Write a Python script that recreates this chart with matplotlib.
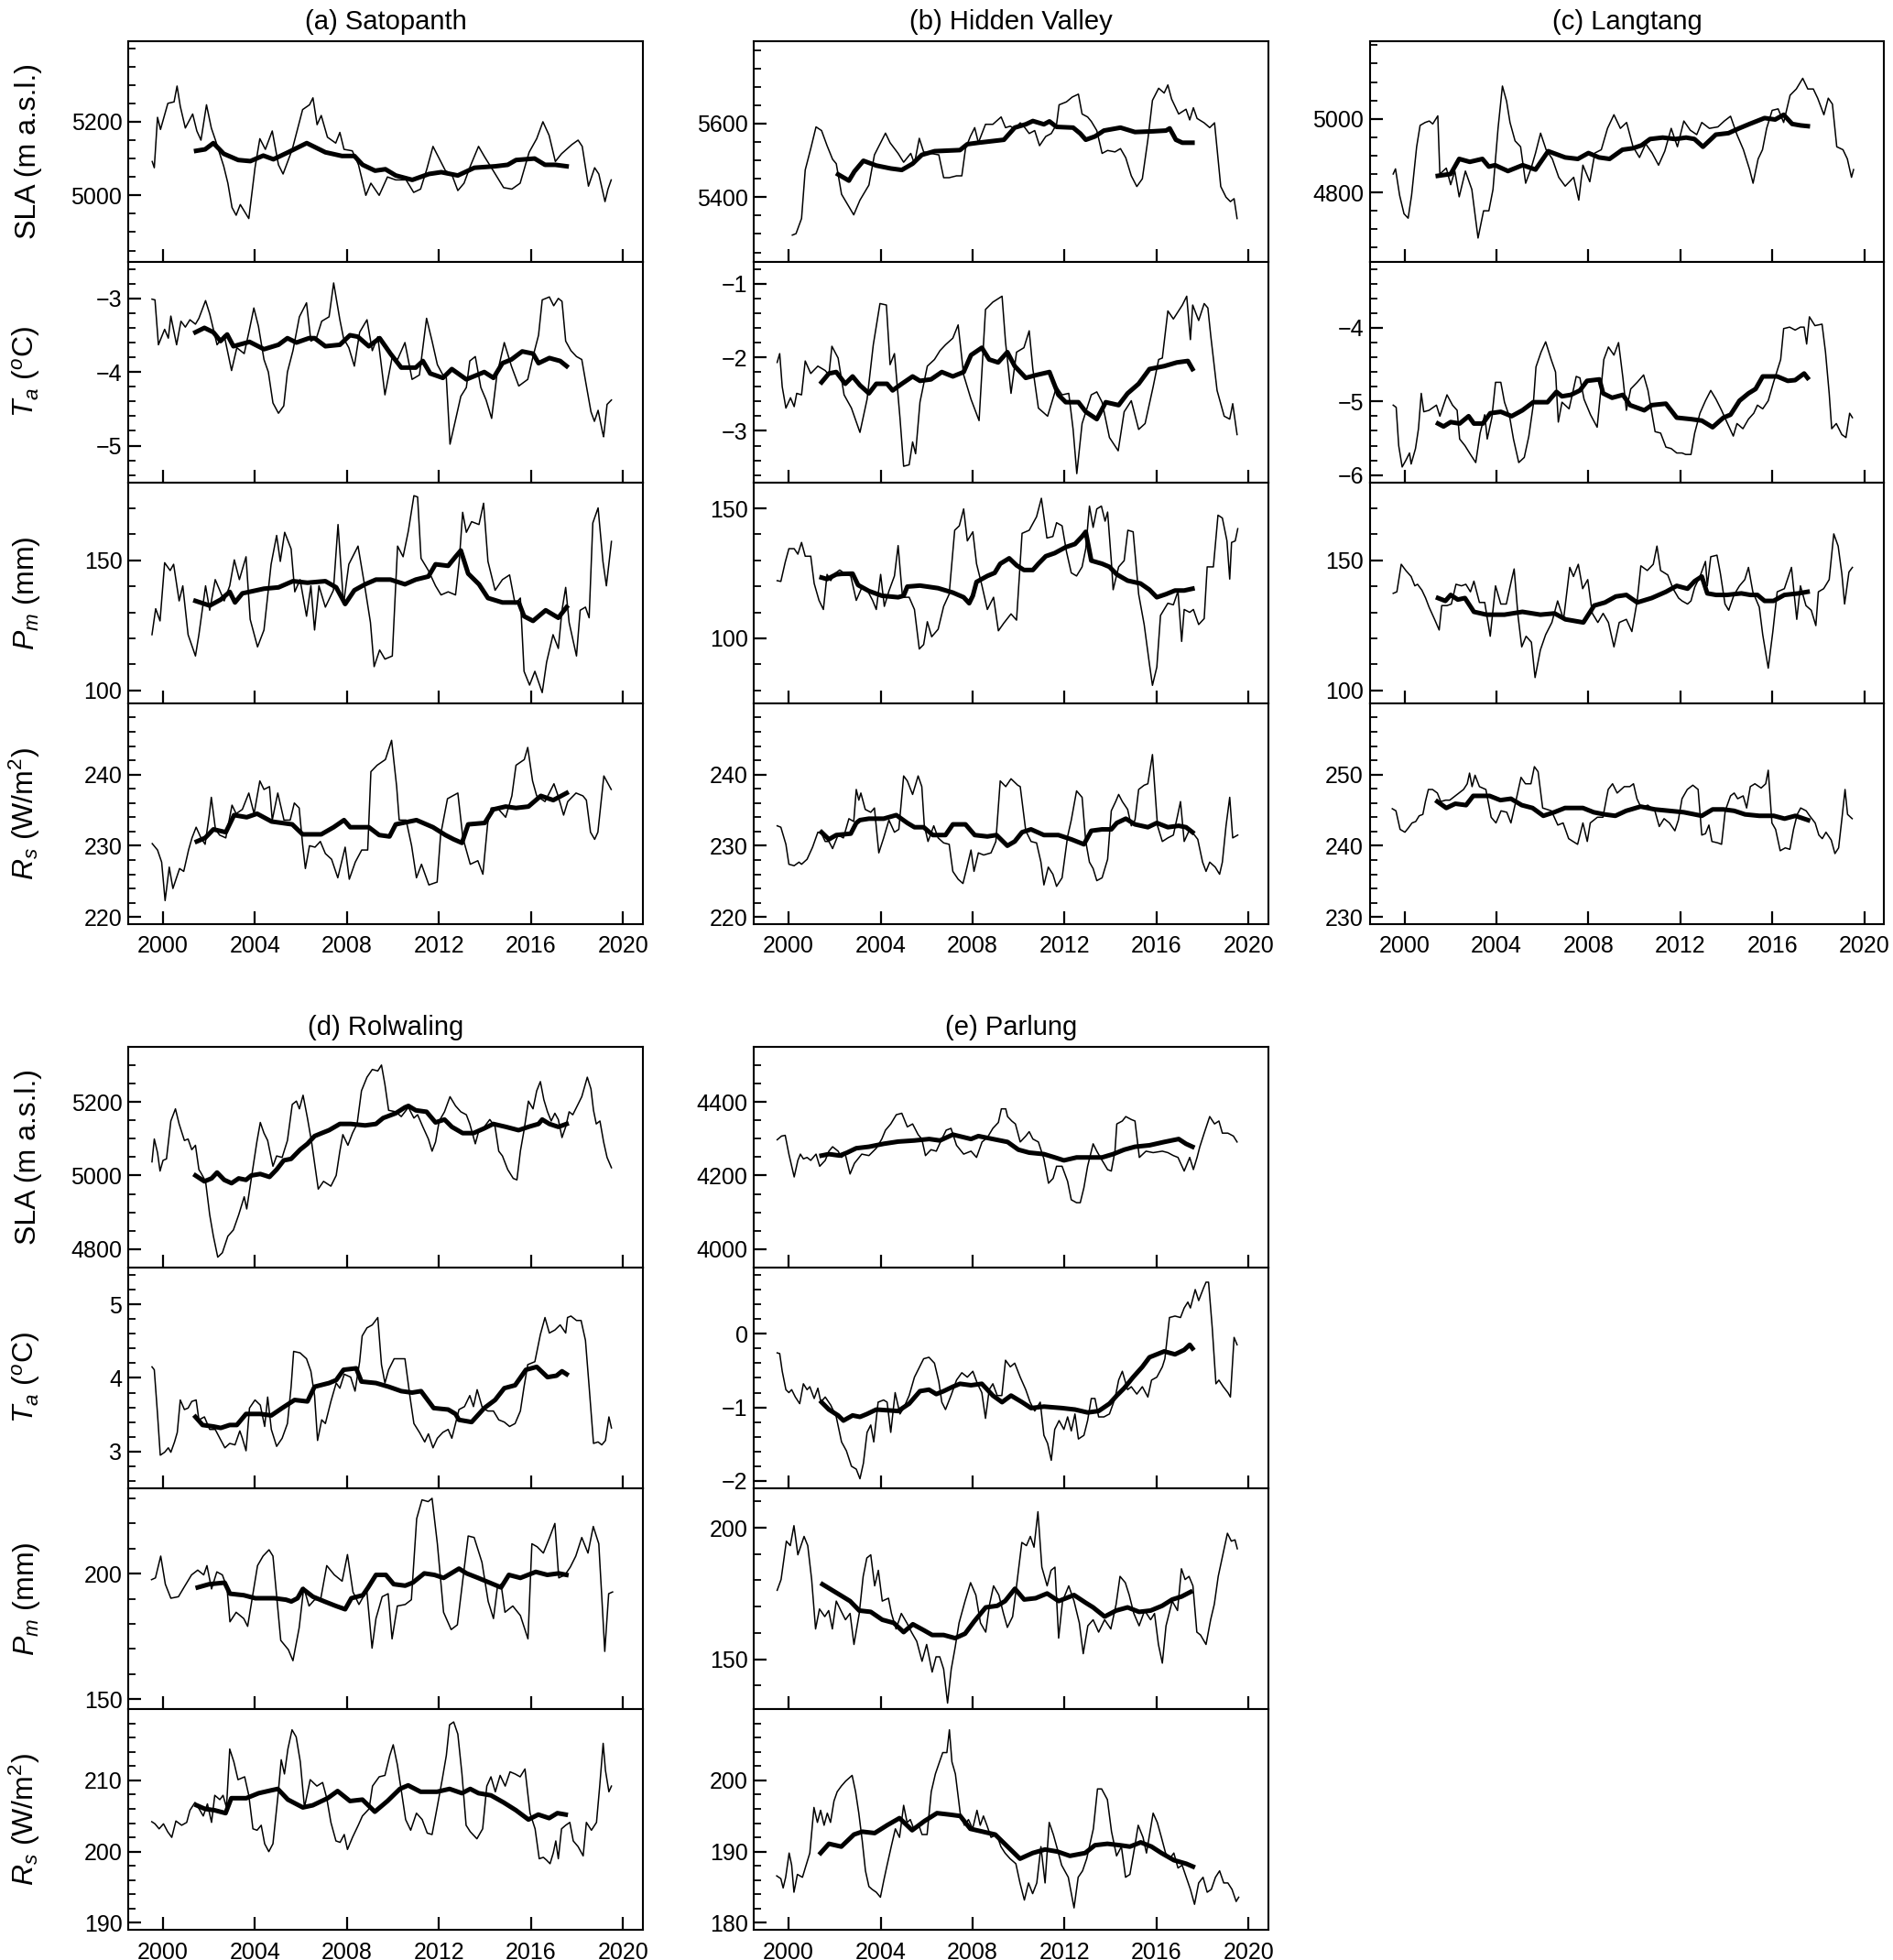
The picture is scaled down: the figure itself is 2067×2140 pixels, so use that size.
import matplotlib
matplotlib.use("Agg")
import matplotlib.pyplot as plt
from matplotlib.ticker import MultipleLocator, FixedLocator

plt.rcParams['font.family'] = ['Liberation Sans', 'DejaVu Sans']
plt.rcParams['mathtext.fontset'] = 'custom'
plt.rcParams['mathtext.rm'] = 'Liberation Sans'
plt.rcParams['mathtext.it'] = 'Liberation Sans:italic'
plt.rcParams['mathtext.bf'] = 'Liberation Sans:bold'

# (year, value) pairs
# thin line = running series, thick line = long-window mean

# ---------------- (a) Satopanth ----------------
sat_sla = [(1999.53,5092),(1999.62,5075),(1999.76,5212),(1999.89,5179),(2000.21,5250),(2000.48,5254),(2000.61,5297),(2000.75,5242),(2000.97,5183),(2001.29,5221),(2001.47,5175),(2001.65,5150),(2001.89,5246),(2002.10,5183),(2002.28,5150),(2002.64,5079),(2002.82,5033),(2003.0,4967),(2003.18,4946),(2003.36,4975),(2003.73,4937),(2004.0,5075),(2004.21,5154),(2004.45,5125),(2004.75,5175),(2005.02,5083),(2005.22,5058),(2005.62,5125),(2006.07,5233),(2006.37,5246),(2006.52,5265),(2006.70,5192),(2006.88,5217),(2007.15,5158),(2007.51,5142),(2007.69,5171),(2007.87,5125),(2008.23,5121),(2008.50,5083),(2008.82,5000),(2009.04,5033),(2009.40,5000),(2009.76,5050),(2010.12,5042),(2010.57,5042),(2010.90,5008),(2011.20,5017),(2011.47,5071),(2011.74,5133),(2012.01,5100),(2012.28,5067),(2012.55,5058),(2012.82,5013),(2013.09,5033),(2013.36,5079),(2013.72,5133),(2013.99,5104),(2014.36,5067),(2014.81,5021),(2015.17,5017),(2015.53,5033),(2015.92,5117),(2016.25,5154),(2016.52,5200),(2016.79,5163),(2017.06,5092),(2017.33,5113),(2017.78,5138),(2018.05,5150),(2018.23,5133),(2018.50,5025),(2018.77,5075),(2018.95,5058),(2019.22,4983),(2019.35,5017),(2019.49,5042)]
sat_sla_avg = [(2001.44,5121),(2001.83,5125),(2002.19,5142),(2002.64,5113),(2003.27,5096),(2003.8,5093),(2004.36,5108),(2004.8,5098),(2005.44,5117),(2006.25,5142),(2007.06,5117),(2007.78,5107),(2008.32,5107),(2008.68,5083),(2009.22,5067),(2009.67,5071),(2010.12,5054),(2010.84,5042),(2011.56,5058),(2012.1,5063),(2012.82,5054),(2013.54,5075),(2014.45,5079),(2014.99,5083),(2015.35,5096),(2016.16,5100),(2016.61,5083),(2017.06,5083),(2017.55,5079)]
sat_ta = [(1999.52,-3.01),(1999.65,-3.02),(1999.8,-3.63),(2000.07,-3.42),(2000.23,-3.54),(2000.34,-3.24),(2000.59,-3.63),(2000.78,-3.31),(2000.97,-3.39),(2001.17,-3.29),(2001.41,-3.35),(2001.56,-3.27),(2001.85,-3.03),(2002.03,-3.21),(2002.35,-3.63),(2002.66,-3.5),(2002.98,-3.98),(2003.21,-3.67),(2003.53,-3.75),(2003.76,-3.42),(2003.95,-3.13),(2004.15,-3.38),(2004.39,-3.83),(2004.58,-4.0),(2004.78,-4.42),(2005.02,-4.56),(2005.25,-4.46),(2005.41,-4.0),(2005.65,-3.71),(2005.93,-3.25),(2006.24,-3.06),(2006.43,-3.58),(2006.67,-3.54),(2006.9,-3.31),(2007.22,-3.25),(2007.42,-2.79),(2007.69,-3.29),(2007.85,-3.54),(2008.08,-3.67),(2008.32,-3.92),(2008.55,-3.46),(2008.87,-3.29),(2009.1,-3.71),(2009.34,-3.52),(2009.65,-4.31),(2009.97,-3.79),(2010.2,-3.83),(2010.52,-3.6),(2010.83,-4.1),(2011.15,-4.04),(2011.46,-3.27),(2011.7,-3.58),(2011.93,-3.9),(2012.17,-4.04),(2012.32,-4.08),(2012.48,-4.98),(2012.72,-4.65),(2012.95,-4.33),(2013.19,-4.21),(2013.34,-3.85),(2013.58,-3.79),(2013.82,-4.21),(2014.05,-4.38),(2014.29,-4.63),(2014.52,-4.04),(2014.84,-3.6),(2015.15,-3.92),(2015.47,-4.19),(2015.86,-4.1),(2016.09,-3.79),(2016.33,-3.5),(2016.49,-3.02),(2016.8,-2.98),(2016.99,-3.1),(2017.19,-3.0),(2017.35,-3.04),(2017.51,-3.58),(2017.74,-3.71),(2017.98,-3.79),(2018.21,-3.83),(2018.4,-4.17),(2018.61,-4.54),(2018.76,-4.67),(2018.92,-4.52),(2019.12,-4.83),(2019.16,-4.88),(2019.31,-4.44),(2019.5,-4.38)]
sat_ta_avg = [(2001.41,-3.46),(2001.8,-3.40),(2002.19,-3.46),(2002.5,-3.58),(2002.79,-3.49),(2003.06,-3.65),(2003.76,-3.59),(2004.39,-3.69),(2005.02,-3.63),(2005.41,-3.54),(2005.8,-3.6),(2006.35,-3.54),(2006.59,-3.54),(2007.06,-3.65),(2007.69,-3.63),(2008.13,-3.5),(2008.47,-3.52),(2008.95,-3.65),(2009.42,-3.54),(2009.89,-3.75),(2010.36,-3.94),(2010.99,-3.94),(2011.3,-3.85),(2011.62,-4.02),(2012.17,-4.08),(2012.56,-3.96),(2013.19,-4.1),(2013.97,-4.0),(2014.37,-4.08),(2014.76,-3.88),(2015.15,-3.83),(2015.62,-3.72),(2016.09,-3.75),(2016.33,-3.88),(2016.8,-3.81),(2017.27,-3.85),(2017.55,-3.92)]
sat_pm = [(1999.52,121.4),(1999.68,131.4),(1999.87,126.7),(2000.07,149.1),(2000.31,146.1),(2000.46,148.5),(2000.7,134.4),(2000.86,140.2),(2001.09,121.4),(2001.41,113.2),(2001.56,121.4),(2001.85,140.2),(2002.03,130.8),(2002.27,142.6),(2002.66,134.4),(2002.9,140.2),(2003.1,150.2),(2003.32,142.6),(2003.61,151.4),(2003.79,127.3),(2004.11,116.7),(2004.39,123.2),(2004.7,148.5),(2004.94,159.6),(2005.1,149.6),(2005.29,160.8),(2005.57,154.4),(2005.73,137.9),(2005.96,142.6),(2006.24,128.5),(2006.43,140.2),(2006.59,123.2),(2006.78,140.2),(2007.06,132.0),(2007.41,138.5),(2007.61,163.8),(2007.85,133.2),(2008.08,148.5),(2008.48,155.5),(2008.79,139.1),(2009.02,126.1),(2009.18,109.1),(2009.42,115.5),(2009.65,112.0),(2009.97,113.2),(2010.2,155.5),(2010.44,151.4),(2010.67,161.4),(2010.91,174.9),(2011.07,174.4),(2011.22,150.8),(2011.54,146.1),(2011.85,140.2),(2012.09,136.7),(2012.4,137.9),(2012.72,136.7),(2012.88,149.6),(2013.03,168.5),(2013.19,160.8),(2013.42,164.9),(2013.74,163.8),(2013.94,172.0),(2014.13,149.6),(2014.44,138.5),(2014.76,142.6),(2015.07,144.4),(2015.31,133.2),(2015.54,135.5),(2015.7,107.3),(2015.94,102.0),(2016.17,107.3),(2016.49,99.1),(2016.68,110.8),(2016.96,121.4),(2017.19,116.1),(2017.35,130.8),(2017.51,139.6),(2017.66,126.1),(2017.98,113.2),(2018.14,130.8),(2018.37,132.0),(2018.53,127.9),(2018.69,164.4),(2018.92,170.2),(2019.13,149.6),(2019.28,140.2),(2019.5,157.3)]
sat_pm_avg = [(2001.41,134.4),(2002.03,132.6),(2002.51,134.9),(2002.9,137.9),(2003.13,133.8),(2003.45,137.3),(2004.39,139.1),(2005.02,139.6),(2005.65,142.0),(2006.28,141.4),(2007.06,142.0),(2007.53,139.6),(2007.92,133.2),(2008.32,138.5),(2008.79,140.8),(2009.26,142.6),(2009.89,142.6),(2010.52,140.8),(2010.99,142.6),(2011.54,143.8),(2011.85,148.5),(2012.4,147.9),(2012.72,151.4),(2012.95,153.8),(2013.27,144.9),(2013.74,140.8),(2014.13,135.5),(2014.76,133.8),(2015.47,133.8),(2015.7,128.5),(2016.09,126.7),(2016.64,130.8),(2017.19,127.9),(2017.55,132.0)]
sat_rs = [(1999.53,230.3),(1999.76,229.4),(1999.94,227.7),(2000.09,222.3),(2000.27,227.0),(2000.43,224.0),(2000.72,226.8),(2000.9,226.4),(2001.11,229.4),(2001.26,231.1),(2001.44,232.6),(2001.65,231.1),(2001.83,230.2),(2002.01,234.3),(2002.1,236.8),(2002.28,232.3),(2002.46,231.5),(2002.73,231.1),(2003.0,235.7),(2003.18,234.5),(2003.45,235.1),(2003.73,237.4),(2003.96,234.5),(2004.21,239.1),(2004.39,237.9),(2004.63,238.3),(2004.75,233.6),(2004.99,237.4),(2005.26,233.6),(2005.53,233.6),(2005.71,236.0),(2005.92,235.3),(2006.07,230.2),(2006.19,226.8),(2006.37,230.0),(2006.61,229.8),(2006.84,230.6),(2007.06,228.9),(2007.33,228.1),(2007.6,225.5),(2007.92,229.8),(2008.1,225.3),(2008.36,227.7),(2008.64,229.4),(2008.9,229.4),(2009.04,240.4),(2009.31,241.3),(2009.67,242.1),(2009.94,244.8),(2010.16,238.3),(2010.27,233.6),(2010.57,233.6),(2010.81,230.0),(2011.02,225.5),(2011.24,227.4),(2011.56,224.5),(2011.92,224.9),(2012.07,231.5),(2012.37,236.6),(2012.82,237.4),(2013.04,231.1),(2013.36,227.4),(2013.69,227.9),(2013.91,226.0),(2014.12,233.2),(2014.27,235.3),(2014.54,235.3),(2014.9,234.0),(2015.17,237.0),(2015.35,241.3),(2015.71,242.1),(2015.86,243.8),(2016.07,239.1),(2016.25,237.0),(2016.61,236.2),(2017.0,238.7),(2017.18,237.0),(2017.42,234.3),(2017.6,236.2),(2017.96,237.4),(2018.26,237.0),(2018.41,236.4),(2018.59,231.9),(2018.77,230.9),(2018.91,231.9),(2019.17,239.8),(2019.49,237.9)]
sat_rs_avg = [(2001.47,230.6),(2001.83,231.1),(2002.19,232.3),(2002.73,231.9),(2003.09,234.3),(2003.64,234.0),(2004.09,234.5),(2004.72,233.4),(2005.62,233.0),(2006.07,231.6),(2006.88,231.6),(2007.42,232.6),(2007.87,233.6),(2008.14,232.6),(2008.95,232.6),(2009.4,231.5),(2009.85,231.3),(2010.12,233.0),(2011.02,233.6),(2011.74,232.6),(2012.28,231.5),(2012.64,230.9),(2013.0,230.4),(2013.27,233.0),(2013.99,233.2),(2014.36,235.1),(2014.9,235.5),(2015.35,235.3),(2015.89,235.5),(2016.43,237.0),(2016.97,236.4),(2017.55,237.4)]

# ---------------- (b) Hidden Valley ----------------
hid_sla = [(2000.16,5297),(2000.32,5301),(2000.56,5342),(2000.72,5474),(2000.96,5532),(2001.19,5591),(2001.43,5581),(2001.67,5540),(2001.91,5503),(2002.07,5491),(2002.3,5408),(2002.83,5352),(2003.1,5392),(2003.49,5433),(2003.73,5515),(2004.21,5574),(2004.41,5548),(2004.76,5519),(2005.0,5495),(2005.31,5519),(2005.47,5491),(2005.68,5560),(2005.87,5523),(2006.19,5519),(2006.53,5515),(2006.74,5453),(2006.98,5453),(2007.3,5458),(2007.53,5458),(2007.69,5532),(2007.9,5565),(2008.09,5589),(2008.25,5548),(2008.56,5598),(2008.88,5598),(2009.24,5618),(2009.43,5589),(2009.64,5593),(2009.83,5585),(2010.07,5602),(2010.27,5589),(2010.46,5573),(2010.7,5581),(2010.91,5540),(2011.18,5565),(2011.42,5573),(2011.65,5598),(2011.76,5651),(2012.08,5659),(2012.33,5672),(2012.6,5680),(2012.76,5626),(2013.0,5618),(2013.16,5606),(2013.4,5581),(2013.63,5519),(2013.87,5527),(2014.19,5523),(2014.43,5532),(2014.66,5507),(2014.9,5458),(2015.14,5429),(2015.38,5450),(2015.62,5556),(2015.82,5663),(2016.09,5696),(2016.33,5683),(2016.49,5705),(2016.65,5667),(2016.96,5626),(2017.28,5639),(2017.44,5610),(2017.6,5643),(2017.76,5614),(2018.07,5602),(2018.31,5589),(2018.52,5602),(2018.79,5429),(2019.02,5400),(2019.21,5388),(2019.37,5396),(2019.5,5342)]
hid_sla_avg = [(2002.15,5462),(2002.62,5445),(2002.86,5470),(2003.25,5499),(2003.81,5486),(2004.44,5478),(2004.92,5474),(2005.39,5491),(2005.79,5515),(2006.35,5525),(2007.45,5528),(2007.77,5544),(2008.25,5548),(2009.36,5556),(2009.83,5589),(2010.31,5598),(2010.62,5607),(2011.1,5598),(2011.34,5606),(2011.65,5591),(2012.37,5589),(2012.68,5573),(2012.92,5556),(2013.32,5565),(2013.71,5581),(2014.43,5589),(2015.06,5577),(2015.85,5579),(2016.41,5581),(2016.57,5587),(2016.84,5556),(2017.12,5548),(2017.56,5548)]
hid_ta = [(1999.5,-2.07),(1999.61,-1.95),(1999.72,-2.4),(1999.88,-2.69),(2000.08,-2.55),(2000.24,-2.67),(2000.35,-2.49),(2000.56,-2.51),(2000.72,-2.05),(2000.96,-2.22),(2001.27,-2.12),(2001.59,-2.18),(2001.75,-2.24),(2001.88,-1.85),(2002.15,-2.01),(2002.41,-2.51),(2002.73,-2.69),(2003.1,-3.02),(2003.41,-2.57),(2003.68,-1.83),(2003.97,-1.27),(2004.25,-1.29),(2004.41,-2.1),(2004.6,-1.95),(2004.84,-2.82),(2005.0,-3.48),(2005.24,-3.46),(2005.39,-3.15),(2005.52,-3.31),(2005.71,-2.61),(2006.03,-2.12),(2006.34,-2.03),(2006.58,-1.91),(2006.82,-1.83),(2007.14,-1.74),(2007.37,-1.56),(2007.61,-2.24),(2007.93,-2.57),(2008.28,-2.86),(2008.56,-1.35),(2008.88,-1.25),(2009.28,-1.17),(2009.43,-1.79),(2009.67,-2.49),(2009.91,-1.93),(2010.23,-1.87),(2010.46,-1.64),(2010.62,-2.16),(2010.86,-2.69),(2011.26,-2.8),(2011.65,-2.4),(2011.89,-2.51),(2012.18,-2.49),(2012.37,-2.98),(2012.53,-3.58),(2012.76,-2.9),(2013.16,-2.51),(2013.4,-2.47),(2013.63,-2.61),(2013.95,-3.09),(2014.33,-3.27),(2014.59,-2.74),(2014.9,-2.59),(2015.22,-2.98),(2015.5,-2.9),(2015.85,-2.4),(2016.09,-2.03),(2016.25,-2.01),(2016.49,-1.37),(2016.73,-1.48),(2017.12,-1.29),(2017.31,-1.17),(2017.47,-1.76),(2017.57,-1.29),(2017.83,-1.5),(2018.07,-1.27),(2018.23,-1.33),(2018.36,-1.72),(2018.63,-2.45),(2018.94,-2.8),(2019.18,-2.84),(2019.31,-2.63),(2019.5,-3.05)]
hid_ta_avg = [(2001.43,-2.34),(2001.75,-2.22),(2002.07,-2.2),(2002.46,-2.36),(2002.78,-2.26),(2003.1,-2.38),(2003.49,-2.49),(2003.81,-2.36),(2004.28,-2.36),(2004.52,-2.45),(2004.92,-2.36),(2005.39,-2.26),(2005.71,-2.32),(2006.19,-2.3),(2006.66,-2.2),(2007.14,-2.26),(2007.61,-2.2),(2007.93,-1.97),(2008.4,-1.87),(2008.72,-2.03),(2009.11,-2.07),(2009.51,-1.93),(2009.83,-2.12),(2010.31,-2.28),(2010.78,-2.24),(2011.34,-2.2),(2011.73,-2.51),(2012.05,-2.61),(2012.6,-2.61),(2012.92,-2.74),(2013.4,-2.84),(2013.79,-2.61),(2014.35,-2.65),(2014.74,-2.49),(2015.22,-2.36),(2015.69,-2.16),(2016.33,-2.12),(2016.88,-2.07),(2017.36,-2.05),(2017.56,-2.16)]
hid_pm = [(1999.5,122.2),(1999.66,121.9),(1999.85,129.3),(2000.01,134.5),(2000.24,134.5),(2000.4,132.4),(2000.56,136.9),(2000.72,131.6),(2000.96,131.6),(2001.11,121.1),(2001.32,114.6),(2001.51,111.1),(2001.67,124.6),(2001.83,122.2),(2001.99,124.8),(2002.22,126.3),(2002.46,124.8),(2002.7,124.0),(2002.94,114.6),(2003.17,119.3),(2003.41,118.7),(2003.65,114.6),(2003.81,111.1),(2004.0,124.6),(2004.16,112.3),(2004.36,118.2),(2004.6,124.0),(2004.76,135.7),(2004.95,115.8),(2005.24,115.8),(2005.47,111.1),(2005.68,95.9),(2005.87,97.6),(2006.03,106.4),(2006.22,100.6),(2006.5,103.5),(2006.74,112.3),(2006.98,117.0),(2007.22,141.6),(2007.42,143.3),(2007.61,149.8),(2007.77,137.5),(2008.01,141.0),(2008.17,128.7),(2008.4,120.5),(2008.64,111.1),(2008.91,115.8),(2009.12,102.9),(2009.36,105.9),(2009.67,109.4),(2009.91,107.0),(2010.15,140.4),(2010.46,141.6),(2010.78,146.8),(2010.99,153.9),(2011.23,138.6),(2011.49,139.2),(2011.65,144.5),(2011.89,143.3),(2012.08,133.4),(2012.29,125.2),(2012.52,124.0),(2012.76,127.5),(2012.92,134.5),(2013.08,150.9),(2013.24,142.7),(2013.4,149.8),(2013.6,150.9),(2013.76,145.1),(2013.87,148.6),(2014.03,129.9),(2014.11,118.7),(2014.35,127.5),(2014.59,129.9),(2014.75,141.6),(2014.98,141.0),(2015.22,117.0),(2015.46,105.3),(2015.69,90.0),(2015.82,81.9),(2016.01,88.9),(2016.17,108.8),(2016.49,113.5),(2016.73,112.9),(2016.93,118.1),(2017.09,98.8),(2017.2,111.1),(2017.44,110.0),(2017.6,111.1),(2017.83,105.3),(2018.07,107.6),(2018.2,127.5),(2018.47,127.5),(2018.67,147.4),(2018.86,146.3),(2019.06,137.5),(2019.18,122.8),(2019.26,136.9),(2019.42,137.5),(2019.53,142.2)]
hid_pm_avg = [(2001.43,123.4),(2001.67,122.8),(2002.07,124.6),(2002.3,124.8),(2002.78,124.9),(2003.02,120.5),(2003.49,118.2),(2004.05,116.4),(2004.76,115.8),(2005.0,116.4),(2005.16,119.9),(2005.71,120.3),(2006.5,119.3),(2007.14,117.6),(2007.61,115.8),(2007.85,113.5),(2008.01,116.4),(2008.17,121.7),(2008.64,124.0),(2008.96,125.2),(2009.2,128.7),(2009.59,130.8),(2009.91,128.1),(2010.23,126.3),(2010.62,126.3),(2010.86,128.7),(2011.18,131.6),(2011.57,132.8),(2012.05,135.1),(2012.45,136.3),(2012.76,139.2),(2012.92,141.0),(2013.16,129.9),(2013.63,128.7),(2013.95,127.5),(2014.27,124.6),(2014.74,122.2),(2015.3,121.1),(2015.69,118.7),(2016.01,115.8),(2016.41,117.0),(2016.8,118.4),(2017.2,118.4),(2017.56,119.1)]
hid_rs = [(1999.5,232.8),(1999.66,232.6),(1999.88,230.2),(2000.01,227.4),(2000.24,227.2),(2000.45,227.7),(2000.56,227.4),(2000.8,228.1),(2001.04,229.8),(2001.27,231.9),(2001.43,231.7),(2001.59,230.6),(2001.75,230.6),(2001.91,229.6),(2002.15,231.5),(2002.38,231.1),(2002.62,233.8),(2002.83,233.4),(2002.94,237.9),(2003.05,236.4),(2003.14,237.4),(2003.33,235.1),(2003.57,234.7),(2003.73,235.3),(2003.92,229.0),(2004.13,231.1),(2004.36,233.6),(2004.6,231.9),(2004.79,232.3),(2005.0,239.8),(2005.16,239.1),(2005.39,237.2),(2005.63,239.8),(2005.79,238.3),(2005.9,232.8),(2006.06,230.6),(2006.31,232.8),(2006.5,231.1),(2006.74,230.4),(2006.98,230.2),(2007.14,226.4),(2007.37,225.3),(2007.58,224.7),(2007.74,226.8),(2007.93,229.4),(2008.06,226.4),(2008.25,229.0),(2008.48,228.7),(2008.8,229.0),(2009.01,230.6),(2009.2,239.1),(2009.44,238.3),(2009.67,239.4),(2009.96,238.5),(2010.07,238.3),(2010.31,232.1),(2010.54,230.6),(2010.78,230.4),(2010.97,227.7),(2011.1,224.5),(2011.29,227.0),(2011.49,226.0),(2011.65,224.3),(2011.89,225.5),(2012.13,231.3),(2012.29,233.6),(2012.52,237.7),(2012.76,236.8),(2012.92,230.6),(2013.08,227.7),(2013.24,226.8),(2013.4,225.1),(2013.63,225.5),(2013.87,228.1),(2014.03,234.9),(2014.22,236.2),(2014.35,237.2),(2014.51,236.2),(2014.74,235.1),(2014.9,232.8),(2015.06,233.6),(2015.22,237.9),(2015.46,238.5),(2015.62,238.7),(2015.82,242.8),(2016.04,232.8),(2016.25,230.6),(2016.49,231.1),(2016.73,231.5),(2016.93,234.5),(2017.04,236.2),(2017.2,230.6),(2017.44,232.3),(2017.6,231.7),(2017.79,230.9),(2018.0,227.7),(2018.15,226.4),(2018.31,227.7),(2018.55,227.0),(2018.74,226.0),(2018.86,227.7),(2019.02,232.8),(2019.18,236.8),(2019.31,231.1),(2019.53,231.5)]
hid_rs_avg = [(2001.43,231.9),(2001.75,230.9),(2002.07,231.5),(2002.7,231.7),(2002.94,233.2),(2003.1,233.6),(2003.49,233.8),(2004.13,233.8),(2004.68,234.3),(2005.16,233.2),(2005.47,232.6),(2005.87,232.6),(2006.27,231.5),(2006.82,231.5),(2007.14,233.0),(2007.69,233.0),(2008.09,231.5),(2008.64,231.3),(2009.04,231.5),(2009.51,230.0),(2009.83,230.6),(2010.15,231.9),(2010.54,232.3),(2011.1,231.5),(2011.73,231.5),(2012.29,230.9),(2012.84,230.2),(2013.16,232.1),(2013.63,232.3),(2014.03,232.3),(2014.27,233.2),(2014.66,233.8),(2015.06,233.0),(2015.62,232.6),(2016.01,233.2),(2016.49,232.6),(2016.96,232.8),(2017.28,232.6),(2017.56,231.9)]

# ---------------- (c) Langtang ----------------
lan_sla = [(1999.51,4850),(1999.61,4864),(1999.79,4792),(1999.98,4742),(2000.16,4730),(2000.31,4792),(2000.53,4924),(2000.68,4982),(2000.9,4990),(2001.08,4994),(2001.23,4986),(2001.45,5008),(2001.54,4850),(2001.82,4866),(2002.01,4821),(2002.19,4858),(2002.38,4788),(2002.65,4858),(2002.93,4808),(2003.2,4676),(2003.44,4750),(2003.67,4750),(2003.85,4808),(2004.07,4974),(2004.26,5089),(2004.44,5048),(2004.59,4990),(2004.81,4940),(2005.05,4924),(2005.27,4825),(2005.51,4866),(2005.7,4907),(2005.92,4961),(2006.16,4916),(2006.43,4891),(2006.71,4841),(2006.99,4817),(2007.36,4841),(2007.58,4779),(2007.76,4874),(2008.06,4829),(2008.28,4907),(2008.56,4916),(2008.83,4974),(2009.11,5011),(2009.39,4974),(2009.66,4990),(2009.94,4924),(2010.22,4895),(2010.49,4932),(2010.77,4907),(2011.05,4874),(2011.32,4912),(2011.6,4974),(2011.87,4924),(2012.15,4994),(2012.43,4969),(2012.71,4957),(2012.93,4990),(2013.26,4974),(2013.63,4978),(2013.91,4994),(2014.18,5007),(2014.46,4957),(2014.74,4916),(2015.01,4862),(2015.16,4825),(2015.38,4891),(2015.57,4916),(2015.75,4974),(2015.99,5023),(2016.25,5027),(2016.49,4990),(2016.77,5064),(2017.04,5081),(2017.32,5110),(2017.54,5081),(2017.78,5081),(2017.97,5056),(2018.24,5011),(2018.43,5056),(2018.61,5040),(2018.8,4924),(2019.07,4916),(2019.26,4891),(2019.44,4841),(2019.53,4862)]
lan_sla_avg = [(2001.45,4845),(2002.01,4850),(2002.38,4891),(2002.84,4883),(2003.39,4891),(2003.67,4870),(2003.94,4874),(2004.5,4858),(2005.14,4874),(2005.7,4862),(2006.25,4912),(2006.99,4895),(2007.54,4891),(2008.0,4907),(2008.46,4895),(2008.92,4891),(2009.48,4916),(2009.94,4920),(2010.31,4928),(2010.68,4945),(2011.23,4949),(2011.78,4945),(2012.25,4949),(2012.61,4945),(2012.98,4924),(2013.54,4957),(2014.09,4961),(2014.55,4974),(2015.01,4986),(2015.66,5002),(2016.12,4998),(2016.49,5011),(2016.86,4986),(2017.23,4982),(2017.54,4980)]
lan_ta = [(1999.51,-5.05),(1999.64,-5.08),(1999.75,-5.6),(1999.9,-5.89),(2000.06,-5.8),(2000.22,-5.7),(2000.29,-5.85),(2000.48,-5.64),(2000.61,-5.37),(2000.73,-4.89),(2000.84,-5.14),(2001.07,-5.12),(2001.39,-5.05),(2001.54,-5.2),(2001.85,-4.91),(2002.09,-5.05),(2002.29,-5.12),(2002.4,-5.51),(2002.63,-5.6),(2002.87,-5.72),(2003.1,-5.83),(2003.29,-5.43),(2003.49,-5.18),(2003.6,-5.51),(2003.8,-5.22),(2003.96,-4.74),(2004.19,-4.74),(2004.35,-5.01),(2004.58,-5.22),(2004.74,-5.51),(2004.97,-5.83),(2005.21,-5.76),(2005.41,-5.47),(2005.6,-5.05),(2005.72,-4.53),(2005.94,-4.33),(2006.14,-4.19),(2006.38,-4.43),(2006.57,-4.6),(2006.69,-5.28),(2006.85,-5.01),(2007.16,-5.1),(2007.31,-4.89),(2007.47,-4.66),(2007.63,-4.68),(2007.81,-4.97),(2008.09,-5.18),(2008.38,-5.35),(2008.56,-4.78),(2008.67,-4.43),(2008.87,-4.26),(2009.11,-4.37),(2009.31,-4.2),(2009.5,-4.68),(2009.65,-5.12),(2009.84,-4.83),(2010.12,-4.74),(2010.4,-4.64),(2010.59,-4.85),(2010.75,-5.14),(2010.9,-5.41),(2011.14,-5.43),(2011.37,-5.62),(2011.6,-5.64),(2011.84,-5.7),(2012.07,-5.7),(2012.23,-5.72),(2012.46,-5.72),(2012.62,-5.43),(2012.85,-5.16),(2013.09,-4.99),(2013.32,-4.85),(2013.55,-4.97),(2013.79,-5.12),(2014.02,-5.28),(2014.3,-5.47),(2014.46,-5.3),(2014.72,-5.37),(2014.96,-5.24),(2015.19,-5.16),(2015.35,-5.05),(2015.58,-5.1),(2015.82,-4.99),(2016.05,-4.74),(2016.36,-4.43),(2016.49,-4.01),(2016.75,-3.99),(2016.99,-4.03),(2017.22,-3.99),(2017.38,-3.99),(2017.49,-4.22),(2017.61,-3.85),(2017.85,-3.97),(2018.16,-3.95),(2018.31,-4.33),(2018.47,-4.89),(2018.58,-5.37),(2018.78,-5.3),(2019.02,-5.45),(2019.2,-5.49),(2019.36,-5.16),(2019.48,-5.22)]
lan_ta_avg = [(2001.46,-5.3),(2001.7,-5.34),(2002.01,-5.28),(2002.4,-5.3),(2002.79,-5.2),(2003.02,-5.3),(2003.41,-5.3),(2003.73,-5.16),(2004.19,-5.14),(2004.66,-5.2),(2005.13,-5.12),(2005.6,-5.01),(2006.22,-5.01),(2006.61,-4.87),(2006.85,-4.93),(2007.24,-4.91),(2007.63,-4.85),(2007.94,-4.72),(2008.48,-4.7),(2008.64,-4.89),(2009.03,-4.95),(2009.5,-4.91),(2009.81,-5.05),(2010.43,-5.12),(2010.75,-5.05),(2011.37,-5.03),(2011.84,-5.22),(2012.46,-5.24),(2012.93,-5.26),(2013.4,-5.35),(2013.87,-5.22),(2014.18,-5.18),(2014.57,-4.99),(2014.96,-4.89),(2015.27,-4.83),(2015.58,-4.66),(2016.21,-4.66),(2016.67,-4.72),(2016.99,-4.71),(2017.38,-4.62),(2017.53,-4.68)]
lan_pm = [(1999.51,137.3),(1999.67,137.9),(1999.86,148.5),(2000.06,146.1),(2000.29,143.8),(2000.45,140.2),(2000.57,140.8),(2000.76,138.5),(2000.92,135.5),(2001.07,132.0),(2001.31,127.3),(2001.51,123.2),(2001.62,132.6),(2001.85,132.6),(2002.04,133.2),(2002.24,140.8),(2002.48,140.2),(2002.67,140.8),(2002.87,137.9),(2003.02,142.0),(2003.26,133.8),(2003.49,133.8),(2003.73,120.8),(2003.96,140.2),(2004.19,133.2),(2004.43,133.2),(2004.66,142.6),(2004.77,146.7),(2004.94,128.5),(2005.1,116.7),(2005.29,120.8),(2005.52,118.5),(2005.68,104.9),(2005.91,115.5),(2006.14,121.4),(2006.41,126.1),(2006.66,134.4),(2006.92,127.3),(2007.19,147.3),(2007.35,143.8),(2007.56,148.5),(2007.75,139.1),(2007.97,142.6),(2008.17,129.6),(2008.41,126.1),(2008.64,129.6),(2008.87,126.1),(2009.11,116.7),(2009.34,126.1),(2009.65,127.3),(2009.89,122.6),(2010.12,134.4),(2010.28,147.9),(2010.56,146.1),(2010.82,148.5),(2010.98,155.5),(2011.14,146.1),(2011.45,144.4),(2011.68,139.1),(2011.92,135.5),(2012.07,134.4),(2012.31,133.2),(2012.46,134.4),(2012.62,139.6),(2012.85,143.8),(2013.09,149.6),(2013.17,140.2),(2013.32,151.4),(2013.59,152.0),(2013.74,144.9),(2013.94,133.2),(2014.1,130.8),(2014.33,136.7),(2014.57,140.2),(2014.8,142.6),(2014.96,147.3),(2015.15,137.9),(2015.43,132.0),(2015.58,121.4),(2015.82,108.5),(2016.02,122.6),(2016.21,137.9),(2016.52,139.1),(2016.83,147.3),(2017.06,127.3),(2017.22,140.2),(2017.46,132.6),(2017.69,130.8),(2017.89,124.9),(2018.0,137.9),(2018.23,139.1),(2018.47,142.6),(2018.67,160.2),(2018.86,155.5),(2019.02,144.9),(2019.14,133.2),(2019.33,145.5),(2019.48,147.3)]
lan_pm_avg = [(2001.46,135.5),(2001.78,134.4),(2002.01,136.7),(2002.32,134.9),(2002.63,135.5),(2003.02,130.2),(2003.57,129.1),(2004.35,129.1),(2005.13,130.2),(2005.91,129.1),(2006.53,129.6),(2007.0,127.3),(2007.78,126.1),(2008.25,132.6),(2008.72,133.8),(2009.19,136.1),(2009.65,136.7),(2010.12,133.8),(2010.75,135.5),(2011.37,137.9),(2011.84,140.2),(2012.31,139.1),(2012.62,142.0),(2012.93,143.8),(2013.17,137.3),(2013.55,136.7),(2014.02,136.7),(2014.65,137.3),(2015.04,136.7),(2015.35,136.7),(2015.66,134.4),(2016.05,134.4),(2016.52,136.7),(2017.14,137.3),(2017.53,137.9)]
lan_rs = [(1999.47,245.2),(1999.63,244.9),(1999.81,242.3),(2000.02,241.9),(2000.17,242.5),(2000.33,243.2),(2000.49,243.4),(2000.64,244.2),(2000.8,244.4),(2000.91,246.2),(2001.04,247.9),(2001.22,247.9),(2001.43,247.4),(2001.58,246.2),(2001.79,246.4),(2001.97,246.4),(2002.21,247.0),(2002.37,247.4),(2002.57,247.9),(2002.73,248.7),(2002.83,250.2),(2002.94,248.3),(2003.07,249.9),(2003.26,248.3),(2003.54,247.9),(2003.77,244.0),(2003.98,243.2),(2004.2,244.9),(2004.45,244.7),(2004.63,243.2),(2004.82,245.9),(2005.07,249.6),(2005.26,248.7),(2005.5,248.7),(2005.65,251.1),(2005.81,250.4),(2006.01,245.3),(2006.2,245.1),(2006.39,244.9),(2006.67,242.9),(2006.9,243.2),(2007.14,241.0),(2007.33,240.6),(2007.53,240.2),(2007.76,243.2),(2007.95,240.6),(2008.08,243.2),(2008.39,244.0),(2008.63,244.0),(2008.86,247.9),(2009.05,248.7),(2009.25,247.4),(2009.56,248.3),(2009.8,248.3),(2009.96,248.7),(2010.11,246.6),(2010.3,245.3),(2010.58,245.7),(2010.89,244.9),(2011.08,242.7),(2011.29,243.8),(2011.52,243.2),(2011.76,242.1),(2011.91,243.6),(2012.07,246.6),(2012.3,247.9),(2012.54,248.5),(2012.77,247.9),(2012.93,241.5),(2013.09,241.7),(2013.24,242.9),(2013.37,240.6),(2013.63,240.4),(2013.79,240.2),(2013.95,244.9),(2014.18,247.0),(2014.34,247.4),(2014.49,246.6),(2014.73,247.0),(2014.88,245.3),(2015.04,248.3),(2015.24,248.7),(2015.51,248.1),(2015.71,248.7),(2015.82,250.6),(2015.98,243.2),(2016.14,242.3),(2016.34,239.3),(2016.56,239.7),(2016.76,239.5),(2016.92,242.3),(2017.08,244.4),(2017.23,245.3),(2017.47,244.9),(2017.62,244.2),(2017.86,243.2),(2018.02,241.5),(2018.17,241.0),(2018.33,241.9),(2018.56,240.8),(2018.72,238.9),(2018.88,239.7),(2019.03,244.0),(2019.16,247.9),(2019.27,244.4),(2019.47,243.8)]
lan_rs_avg = [(2001.43,246.2),(2001.82,245.3),(2002.21,245.9),(2002.68,245.7),(2002.99,247.0),(2003.7,247.0),(2004.17,246.4),(2004.63,246.6),(2005.1,245.7),(2005.57,245.3),(2006.04,244.2),(2006.51,244.7),(2006.98,245.3),(2007.76,245.3),(2008.23,244.7),(2008.7,244.4),(2009.17,244.2),(2009.64,244.9),(2010.27,245.5),(2010.89,245.1),(2011.52,244.9),(2012.15,244.7),(2012.93,244.2),(2013.4,245.1),(2013.87,245.1),(2014.34,244.9),(2014.81,244.4),(2015.43,244.2),(2016.06,244.2),(2016.53,243.8),(2017.0,244.2),(2017.55,243.6)]

# ---------------- (d) Rolwaling ----------------
rol_sla = [(1999.52,5037),(1999.62,5099),(1999.76,5062),(1999.87,5012),(2000.0,5041),(2000.15,5045),(2000.34,5148),(2000.54,5181),(2000.7,5140),(2000.93,5095),(2001.09,5099),(2001.25,5070),(2001.41,5082),(2001.56,5016),(2001.64,5008),(2001.85,4984),(2002.03,4893),(2002.19,4835),(2002.38,4778),(2002.58,4790),(2002.82,4835),(2003.06,4852),(2003.29,4893),(2003.53,4942),(2003.64,4909),(2003.84,4992),(2004.08,5091),(2004.23,5144),(2004.39,5115),(2004.55,5095),(2004.67,5058),(2004.78,5025),(2004.94,5053),(2005.18,5049),(2005.41,5095),(2005.62,5193),(2005.8,5202),(2005.93,5181),(2006.09,5218),(2006.28,5156),(2006.46,5091),(2006.75,4963),(2006.98,4984),(2007.3,4971),(2007.53,5000),(2007.69,5066),(2007.82,5111),(2008.04,5082),(2008.24,5115),(2008.44,5140),(2008.63,5230),(2008.87,5267),(2009.1,5288),(2009.34,5284),(2009.5,5300),(2009.65,5247),(2009.81,5177),(2010.12,5173),(2010.36,5160),(2010.67,5185),(2010.91,5156),(2011.07,5165),(2011.3,5132),(2011.54,5099),(2011.7,5066),(2011.85,5091),(2012.01,5148),(2012.24,5173),(2012.48,5214),(2012.72,5189),(2012.95,5173),(2013.19,5165),(2013.34,5140),(2013.58,5086),(2013.74,5123),(2013.97,5132),(2014.21,5152),(2014.44,5132),(2014.6,5066),(2014.76,5053),(2014.99,5016),(2015.23,4992),(2015.39,4988),(2015.54,5066),(2015.7,5123),(2015.89,5202),(2016.09,5181),(2016.25,5230),(2016.41,5255),(2016.56,5206),(2016.72,5173),(2016.88,5148),(2017.04,5169),(2017.19,5152),(2017.35,5103),(2017.51,5132),(2017.66,5173),(2017.82,5165),(2017.98,5185),(2018.21,5214),(2018.45,5267),(2018.61,5235),(2018.72,5177),(2018.84,5140),(2019.0,5148),(2019.16,5091),(2019.31,5049),(2019.5,5021)]
rol_sla_avg = [(2001.41,5000),(2001.8,4984),(2002.11,4992),(2002.35,5008),(2002.66,4988),(2002.98,4979),(2003.29,4992),(2003.61,4988),(2003.84,5000),(2004.23,5004),(2004.63,4996),(2004.94,5016),(2005.25,5041),(2005.57,5045),(2005.96,5070),(2006.28,5086),(2006.59,5107),(2006.9,5115),(2007.22,5123),(2007.69,5140),(2008.16,5140),(2008.79,5136),(2009.26,5140),(2009.57,5156),(2010.12,5169),(2010.52,5185),(2010.67,5189),(2010.99,5177),(2011.46,5173),(2011.85,5144),(2012.24,5152),(2012.56,5132),(2013.03,5115),(2013.5,5115),(2013.97,5128),(2014.36,5140),(2014.91,5132),(2015.46,5123),(2015.94,5133),(2016.33,5140),(2016.49,5152),(2016.8,5140),(2017.19,5132),(2017.55,5140)]
rol_ta = [(1999.52,4.15),(1999.62,4.11),(1999.76,3.51),(1999.88,2.95),(2000.07,2.99),(2000.23,3.05),(2000.34,2.99),(2000.5,3.13),(2000.62,3.26),(2000.75,3.7),(2000.93,3.57),(2001.09,3.59),(2001.25,3.68),(2001.44,3.7),(2001.56,3.43),(2001.8,3.47),(2002.03,3.3),(2002.27,3.3),(2002.47,3.18),(2002.69,3.05),(2002.9,3.11),(2003.13,3.09),(2003.34,3.28),(2003.45,3.18),(2003.61,3.01),(2003.76,3.59),(2004.0,3.7),(2004.23,3.63),(2004.42,3.34),(2004.55,3.74),(2004.71,3.3),(2004.94,3.07),(2005.18,3.18),(2005.41,3.38),(2005.57,3.88),(2005.68,4.36),(2005.96,4.34),(2006.24,4.26),(2006.43,4.09),(2006.59,3.76),(2006.72,3.15),(2006.9,3.43),(2007.06,3.38),(2007.3,3.68),(2007.53,3.93),(2007.69,3.86),(2007.88,4.05),(2008.16,4.01),(2008.35,3.82),(2008.55,4.22),(2008.66,4.57),(2008.87,4.68),(2009.1,4.72),(2009.34,4.82),(2009.5,4.18),(2009.65,3.93),(2009.81,4.11),(2010.05,4.26),(2010.36,4.26),(2010.52,4.26),(2010.75,3.72),(2010.91,3.38),(2011.15,3.26),(2011.38,3.13),(2011.54,3.24),(2011.74,3.05),(2011.93,3.18),(2012.17,3.26),(2012.4,3.3),(2012.56,3.18),(2012.72,3.38),(2012.87,3.57),(2013.11,3.61),(2013.34,3.76),(2013.5,3.61),(2013.66,3.84),(2013.89,3.59),(2014.13,3.55),(2014.37,3.55),(2014.6,3.43),(2014.84,3.4),(2015.07,3.34),(2015.31,3.38),(2015.54,3.55),(2015.7,3.88),(2015.86,4.18),(2016.17,4.22),(2016.41,4.59),(2016.61,4.82),(2016.8,4.61),(2017.04,4.65),(2017.27,4.72),(2017.51,4.61),(2017.59,4.82),(2017.74,4.84),(2017.98,4.78),(2018.18,4.78),(2018.37,4.51),(2018.53,3.88),(2018.72,3.11),(2018.92,3.13),(2019.08,3.09),(2019.24,3.15),(2019.39,3.47),(2019.5,3.32)]
rol_ta_avg = [(2001.41,3.47),(2001.72,3.36),(2002.19,3.34),(2002.51,3.32),(2002.9,3.36),(2003.21,3.36),(2003.61,3.51),(2004.23,3.51),(2004.71,3.49),(2005.18,3.59),(2005.72,3.7),(2006.28,3.68),(2006.59,3.88),(2007.22,3.93),(2007.53,3.97),(2007.85,4.11),(2008.4,4.13),(2008.63,3.95),(2009.26,3.93),(2009.81,3.88),(2010.36,3.82),(2010.83,3.8),(2011.22,3.82),(2011.77,3.59),(2012.4,3.57),(2012.72,3.51),(2012.87,3.43),(2013.42,3.4),(2013.97,3.59),(2014.44,3.7),(2014.84,3.86),(2015.31,3.9),(2015.78,4.11),(2016.25,4.15),(2016.72,4.01),(2017.11,4.03),(2017.35,4.09),(2017.55,4.05)]
rol_pm = [(1999.5,197.6),(1999.67,198.3),(1999.9,207.0),(2000.1,195.8),(2000.34,190.2),(2000.67,190.8),(2000.91,194.5),(2001.24,199.5),(2001.51,201.4),(2001.77,199.5),(2001.91,203.2),(2002.11,193.9),(2002.34,200.7),(2002.58,199.5),(2002.78,194.5),(2002.91,180.8),(2003.18,184.6),(2003.51,182.1),(2003.68,179.0),(2003.91,192.0),(2004.11,203.2),(2004.35,207.0),(2004.61,209.5),(2004.78,207.0),(2005.12,173.4),(2005.45,169.7),(2005.65,165.3),(2005.92,178.4),(2006.12,194.5),(2006.35,187.1),(2006.59,189.6),(2006.85,189.6),(2007.12,203.2),(2007.45,199.5),(2007.79,197.0),(2008.02,207.6),(2008.26,192.7),(2008.52,187.7),(2008.86,193.3),(2009.09,170.3),(2009.26,182.1),(2009.53,190.8),(2009.79,192.0),(2009.96,174.0),(2010.19,187.1),(2010.53,187.7),(2010.8,189.6),(2011.03,221.9),(2011.26,229.4),(2011.53,228.7),(2011.7,230.0),(2011.93,211.9),(2012.2,184.6),(2012.53,177.7),(2012.8,179.6),(2013.03,197.0),(2013.27,215.0),(2013.53,214.4),(2013.87,204.5),(2014.14,188.9),(2014.37,182.1),(2014.54,194.5),(2014.7,195.8),(2014.87,184.6),(2015.21,187.1),(2015.54,183.3),(2015.87,174.0),(2016.04,211.9),(2016.27,210.7),(2016.54,208.2),(2016.81,214.4),(2017.04,220.0),(2017.21,198.3),(2017.48,199.5),(2017.71,202.6),(2017.95,207.0),(2018.21,214.4),(2018.48,208.2),(2018.71,218.8),(2018.95,211.9),(2019.08,190.8),(2019.21,169.0),(2019.38,192.0),(2019.55,192.7)]
rol_pm_avg = [(2001.51,194.5),(2002.01,195.8),(2002.68,196.4),(2002.91,192.0),(2003.51,191.4),(2004.01,190.2),(2004.85,190.2),(2005.35,189.6),(2005.58,188.9),(2005.85,190.2),(2006.08,193.9),(2006.52,190.8),(2007.02,188.9),(2007.52,187.1),(2007.92,185.8),(2008.19,190.2),(2008.69,191.4),(2008.92,194.5),(2009.26,199.5),(2009.69,199.5),(2010.03,195.8),(2010.53,195.2),(2010.86,196.4),(2011.36,200.1),(2011.8,199.5),(2012.2,198.3),(2012.87,202.0),(2013.2,200.1),(2013.7,198.3),(2014.2,196.4),(2014.7,194.5),(2015.04,199.5),(2015.54,198.3),(2016.21,200.7),(2016.71,199.5),(2017.21,200.1),(2017.54,199.5)]
rol_rs = [(1999.51,204.2),(1999.65,203.9),(1999.83,203.2),(2000.02,203.9),(2000.2,202.8),(2000.38,202.0),(2000.56,204.3),(2000.81,203.7),(2001.03,204.1),(2001.17,205.8),(2001.39,206.9),(2001.57,206.0),(2001.75,205.0),(2001.93,206.7),(2002.11,204.1),(2002.25,207.9),(2002.47,207.3),(2002.61,207.9),(2002.76,206.2),(2002.9,214.4),(2003.08,212.6),(2003.26,210.1),(2003.55,210.5),(2003.73,207.9),(2003.91,203.2),(2004.09,203.0),(2004.27,203.7),(2004.42,201.1),(2004.6,200.0),(2004.78,201.1),(2005.0,207.9),(2005.14,212.9),(2005.28,210.9),(2005.43,214.4),(2005.61,217.1),(2005.79,216.1),(2005.97,212.6),(2006.15,206.2),(2006.4,210.1),(2006.69,209.2),(2006.94,209.7),(2007.12,207.5),(2007.3,204.1),(2007.52,201.5),(2007.7,201.3),(2007.88,202.4),(2008.02,200.3),(2008.24,202.0),(2008.49,203.7),(2008.67,205.0),(2008.96,206.0),(2009.11,209.2),(2009.4,210.5),(2009.65,210.7),(2009.86,213.5),(2010.01,215.0),(2010.19,212.2),(2010.37,208.4),(2010.55,204.5),(2010.77,203.0),(2011.02,205.4),(2011.27,204.5),(2011.49,202.6),(2011.7,202.4),(2011.92,206.2),(2012.14,210.1),(2012.32,213.5),(2012.46,217.8),(2012.64,218.2),(2012.82,216.5),(2013.0,210.9),(2013.18,203.7),(2013.36,202.8),(2013.65,201.8),(2013.9,203.2),(2014.08,209.2),(2014.26,210.5),(2014.45,208.4),(2014.66,210.7),(2014.88,209.2),(2015.09,211.2),(2015.31,210.9),(2015.53,210.5),(2015.74,211.6),(2015.96,205.4),(2016.18,203.2),(2016.36,199.0),(2016.54,199.2),(2016.68,198.8),(2016.83,198.3),(2016.97,199.8),(2017.08,201.5),(2017.19,199.0),(2017.33,203.2),(2017.51,203.7),(2017.69,204.1),(2017.84,201.5),(2018.05,200.7),(2018.27,199.4),(2018.41,204.1),(2018.63,203.0),(2018.85,204.1),(2018.99,209.2),(2019.14,215.2),(2019.24,211.4),(2019.39,208.4),(2019.5,209.2)]
rol_rs_avg = [(2001.46,206.5),(2001.82,206.0),(2002.25,205.8),(2002.72,205.4),(2002.97,207.5),(2003.62,207.5),(2004.16,208.2),(2004.7,208.6),(2004.99,208.8),(2005.43,207.3),(2006.08,206.2),(2006.51,206.5),(2007.16,207.5),(2007.59,208.5),(2008.13,207.1),(2008.67,207.3),(2009.21,205.6),(2009.76,207.1),(2010.3,208.8),(2010.66,209.3),(2011.2,208.4),(2011.92,208.4),(2012.46,208.8),(2013.0,208.2),(2013.36,208.8),(2013.72,208.2),(2014.26,207.9),(2014.81,206.9),(2015.35,205.8),(2015.89,204.5),(2016.32,205.2),(2016.79,204.7),(2017.15,205.4),(2017.51,205.2)]

# ---------------- (e) Parlung ----------------
par_sla = [(1999.5,4297),(1999.69,4307),(1999.85,4309),(2000.01,4258),(2000.24,4196),(2000.4,4241),(2000.51,4258),(2000.64,4245),(2000.8,4249),(2000.96,4241),(2001.19,4258),(2001.35,4225),(2001.59,4241),(2001.75,4266),(2001.91,4278),(2002.15,4266),(2002.3,4249),(2002.46,4258),(2002.67,4204),(2002.86,4233),(2003.18,4258),(2003.49,4254),(2003.81,4274),(2004.05,4299),(2004.21,4323),(2004.44,4340),(2004.68,4365),(2004.92,4369),(2005.16,4332),(2005.39,4340),(2005.63,4311),(2005.79,4299),(2005.95,4254),(2006.19,4270),(2006.42,4266),(2006.66,4299),(2006.85,4323),(2007.06,4328),(2007.3,4282),(2007.61,4258),(2007.93,4266),(2008.17,4249),(2008.41,4291),(2008.64,4303),(2008.88,4328),(2009.12,4344),(2009.25,4381),(2009.44,4381),(2009.52,4360),(2009.7,4348),(2009.86,4340),(2010.07,4291),(2010.31,4307),(2010.46,4319),(2010.62,4299),(2010.86,4291),(2011.1,4245),(2011.3,4179),(2011.5,4192),(2011.65,4225),(2011.89,4225),(2012.13,4184),(2012.29,4134),(2012.52,4126),(2012.68,4126),(2012.84,4167),(2013.0,4225),(2013.24,4286),(2013.4,4266),(2013.63,4241),(2013.87,4216),(2014.03,4212),(2014.19,4266),(2014.27,4340),(2014.51,4348),(2014.66,4360),(2014.9,4352),(2015.06,4348),(2015.25,4249),(2015.54,4266),(2015.85,4262),(2016.25,4266),(2016.49,4262),(2016.73,4254),(2016.93,4249),(2017.2,4212),(2017.44,4249),(2017.6,4216),(2017.76,4249),(2017.88,4278),(2018.07,4315),(2018.31,4360),(2018.52,4340),(2018.71,4348),(2018.86,4315),(2019.1,4315),(2019.34,4307),(2019.5,4291)]
par_sla_avg = [(2001.43,4254),(2001.75,4258),(2002.22,4254),(2002.54,4262),(2002.94,4274),(2003.49,4278),(2004.13,4286),(2004.76,4292),(2005.47,4295),(2006.11,4299),(2006.58,4295),(2007.14,4311),(2007.93,4299),(2008.25,4307),(2008.88,4299),(2009.52,4291),(2009.99,4270),(2010.46,4262),(2011.1,4258),(2011.57,4249),(2011.97,4241),(2012.52,4249),(2013.0,4249),(2013.63,4249),(2014.11,4258),(2014.59,4270),(2015.06,4278),(2015.69,4282),(2016.33,4291),(2016.96,4299),(2017.28,4286),(2017.56,4278)]
par_ta = [(1999.5,-0.26),(1999.61,-0.27),(1999.72,-0.51),(1999.88,-0.76),(2000.01,-0.8),(2000.13,-0.76),(2000.29,-0.86),(2000.48,-0.95),(2000.64,-0.68),(2000.8,-0.76),(2000.92,-0.72),(2001.11,-0.88),(2001.27,-0.74),(2001.4,-0.93),(2001.59,-0.86),(2001.83,-0.97),(2002.07,-1.13),(2002.3,-1.47),(2002.51,-1.59),(2002.73,-1.8),(2002.94,-1.84),(2003.1,-1.97),(2003.25,-1.76),(2003.41,-1.34),(2003.57,-1.24),(2003.7,-1.47),(2003.89,-0.93),(2004.13,-0.9),(2004.28,-0.93),(2004.44,-1.34),(2004.63,-0.8),(2004.84,-1.09),(2005.0,-1.01),(2005.24,-0.84),(2005.47,-0.59),(2005.63,-0.49),(2005.87,-0.34),(2006.1,-0.32),(2006.34,-0.4),(2006.53,-0.65),(2006.66,-0.93),(2006.82,-1.03),(2007.06,-0.84),(2007.3,-0.63),(2007.53,-0.53),(2007.77,-0.59),(2008.01,-0.51),(2008.21,-0.68),(2008.4,-0.8),(2008.56,-1.15),(2008.72,-0.76),(2008.88,-0.68),(2009.07,-0.84),(2009.27,-0.84),(2009.43,-0.36),(2009.64,-0.45),(2009.83,-0.4),(2010.07,-0.59),(2010.31,-0.76),(2010.5,-0.93),(2010.7,-1.05),(2010.94,-0.93),(2011.1,-1.38),(2011.26,-1.49),(2011.42,-1.72),(2011.57,-1.3),(2011.76,-1.18),(2011.97,-1.3),(2012.13,-1.13),(2012.29,-1.32),(2012.45,-1.09),(2012.6,-1.43),(2012.84,-1.38),(2013.0,-1.18),(2013.16,-0.88),(2013.32,-0.88),(2013.48,-1.13),(2013.71,-1.13),(2013.95,-1.09),(2014.19,-0.88),(2014.35,-0.63),(2014.51,-0.51),(2014.74,-0.76),(2014.9,-0.72),(2015.14,-0.82),(2015.38,-0.72),(2015.62,-0.86),(2015.78,-0.63),(2016.01,-0.59),(2016.25,-0.45),(2016.36,-0.34),(2016.56,0.22),(2016.8,0.24),(2017.04,0.22),(2017.2,0.35),(2017.36,0.43),(2017.47,0.35),(2017.68,0.6),(2017.83,0.45),(2018.04,0.62),(2018.15,0.7),(2018.26,0.7),(2018.42,0.08),(2018.58,-0.68),(2018.71,-0.63),(2018.9,-0.72),(2019.1,-0.8),(2019.21,-0.86),(2019.37,-0.05),(2019.5,-0.15)]
par_ta_avg = [(2001.43,-0.93),(2001.75,-1.03),(2002.15,-1.11),(2002.38,-1.18),(2002.78,-1.11),(2003.1,-1.13),(2003.41,-1.09),(2003.81,-1.03),(2004.76,-1.05),(2005.24,-0.95),(2005.71,-0.78),(2006.1,-0.76),(2006.42,-0.82),(2006.74,-0.78),(2007.14,-0.72),(2007.45,-0.68),(2007.93,-0.7),(2008.4,-0.68),(2008.88,-0.84),(2009.28,-0.93),(2009.67,-0.84),(2010.15,-0.93),(2010.54,-1.01),(2011.1,-0.99),(2011.89,-1.01),(2012.45,-1.03),(2013.0,-1.07),(2013.48,-1.05),(2013.95,-0.95),(2014.27,-0.84),(2014.59,-0.74),(2014.98,-0.59),(2015.38,-0.45),(2015.69,-0.32),(2016.33,-0.24),(2016.8,-0.28),(2017.2,-0.22),(2017.44,-0.15),(2017.56,-0.2)]
par_pm = [(1999.5,176.2),(1999.67,180.3),(1999.9,194.9),(2000.07,193.2),(2000.23,200.8),(2000.4,189.7),(2000.67,196.7),(2000.83,193.2),(2001.0,180.3),(2001.17,161.5),(2001.34,169.1),(2001.57,166.2),(2001.74,168.5),(2001.9,161.5),(2002.07,172.1),(2002.27,168.5),(2002.47,165.0),(2002.67,167.4),(2002.84,155.6),(2003.07,167.4),(2003.24,181.5),(2003.4,188.5),(2003.57,189.7),(2003.74,177.9),(2003.9,183.8),(2004.07,172.1),(2004.34,173.2),(2004.47,167.4),(2004.67,161.5),(2004.9,167.4),(2005.14,163.8),(2005.34,160.3),(2005.57,156.8),(2005.8,149.2),(2006.0,155.6),(2006.24,145.1),(2006.41,150.9),(2006.57,150.9),(2006.74,146.2),(2006.91,133.3),(2007.07,146.2),(2007.24,154.5),(2007.41,163.8),(2007.67,172.1),(2007.91,179.1),(2008.14,174.4),(2008.34,163.8),(2008.57,160.3),(2008.74,171.0),(2008.91,177.9),(2009.14,174.4),(2009.34,167.4),(2009.51,162.1),(2009.74,166.2),(2009.91,177.9),(2010.14,194.4),(2010.34,193.2),(2010.51,196.7),(2010.67,192.6),(2010.84,206.1),(2011.01,185.0),(2011.24,177.9),(2011.41,183.8),(2011.58,185.0),(2011.74,158.0),(2011.91,172.1),(2012.18,177.9),(2012.41,172.1),(2012.64,163.8),(2012.81,152.1),(2013.01,162.7),(2013.24,165.0),(2013.48,160.3),(2013.74,165.0),(2014.01,161.5),(2014.24,170.9),(2014.41,181.5),(2014.64,179.1),(2014.81,174.4),(2015.01,167.4),(2015.24,162.7),(2015.48,168.5),(2015.74,165.0),(2015.91,167.4),(2016.08,155.6),(2016.25,148.5),(2016.41,162.7),(2016.68,172.1),(2016.91,168.5),(2017.08,184.4),(2017.24,180.3),(2017.41,181.5),(2017.58,177.9),(2017.75,160.3),(2017.91,159.2),(2018.15,155.6),(2018.35,165.0),(2018.51,170.9),(2018.68,181.5),(2018.88,189.7),(2019.08,197.9),(2019.25,194.9),(2019.41,195.4),(2019.51,192.0)]
par_pm_avg = [(2001.47,178.5),(2001.9,176.2),(2002.24,174.4),(2002.67,172.1),(2003.07,168.5),(2003.57,168.0),(2004.07,165.0),(2004.57,163.8),(2005.0,160.3),(2005.4,163.3),(2005.9,160.9),(2006.24,159.2),(2006.74,159.2),(2007.24,158.0),(2007.67,159.7),(2008.07,164.4),(2008.57,169.7),(2009.07,170.3),(2009.41,172.1),(2009.84,176.8),(2010.24,172.7),(2010.74,173.2),(2011.24,175.0),(2011.74,172.1),(2012.41,174.4),(2012.91,171.5),(2013.24,169.7),(2013.74,166.2),(2014.24,168.5),(2014.74,169.7),(2015.24,168.0),(2015.74,168.5),(2016.24,170.3),(2016.68,172.7),(2017.08,173.8),(2017.48,175.6)]
par_rs = [(1999.48,186.6),(1999.66,186.2),(1999.76,184.9),(1999.87,186.4),(2000.02,189.8),(2000.13,188.1),(2000.23,184.3),(2000.38,186.8),(2000.6,186.4),(2000.74,187.9),(2000.92,189.8),(2001.1,196.2),(2001.25,194.1),(2001.39,195.8),(2001.54,193.7),(2001.68,195.4),(2001.82,194.1),(2001.97,197.1),(2002.11,198.4),(2002.29,199.2),(2002.48,199.9),(2002.76,200.7),(2002.91,198.4),(2003.05,195.4),(2003.2,191.5),(2003.34,187.3),(2003.49,185.1),(2003.63,184.7),(2003.81,184.3),(2003.99,183.6),(2004.14,186.0),(2004.28,188.1),(2004.46,190.7),(2004.64,193.2),(2004.82,192.0),(2005.0,196.5),(2005.15,194.1),(2005.29,194.5),(2005.44,193.2),(2005.66,193.7),(2005.8,192.4),(2006.02,192.4),(2006.2,198.4),(2006.38,200.9),(2006.56,202.6),(2006.7,203.9),(2006.88,203.9),(2006.99,207.1),(2007.1,202.6),(2007.25,200.9),(2007.46,195.4),(2007.64,193.7),(2007.82,194.5),(2008.0,193.2),(2008.19,195.8),(2008.33,193.7),(2008.47,195.0),(2008.62,193.7),(2008.8,192.0),(2009.05,192.4),(2009.23,190.7),(2009.41,189.8),(2009.63,189.0),(2009.88,188.3),(2010.06,185.6),(2010.25,183.2),(2010.43,185.6),(2010.61,184.1),(2010.79,185.6),(2010.97,190.7),(2011.15,185.6),(2011.33,194.1),(2011.51,192.4),(2011.69,190.3),(2011.87,188.1),(2012.16,186.4),(2012.41,182.1),(2012.59,186.4),(2012.78,187.3),(2012.96,189.0),(2013.25,193.2),(2013.43,198.8),(2013.61,198.8),(2013.86,197.3),(2014.04,192.8),(2014.26,189.4),(2014.47,190.7),(2014.65,186.4),(2014.84,186.8),(2015.05,190.7),(2015.2,193.7),(2015.41,192.0),(2015.56,189.8),(2015.85,195.4),(2016.03,194.1),(2016.21,192.0),(2016.39,189.8),(2016.57,189.0),(2016.75,189.8),(2016.93,187.7),(2017.11,188.1),(2017.29,186.4),(2017.47,184.7),(2017.65,182.6),(2017.83,185.6),(2018.02,186.4),(2018.2,184.3),(2018.38,184.7),(2018.56,186.4),(2018.74,187.3),(2018.92,185.6),(2019.1,185.6),(2019.28,184.7),(2019.46,183.0),(2019.57,183.6)]
par_rs_avg = [(2001.39,189.8),(2001.75,191.1),(2002.29,190.7),(2002.84,192.4),(2003.2,192.8),(2003.74,192.6),(2004.28,193.7),(2004.82,194.7),(2005.37,193.0),(2005.91,194.3),(2006.45,195.4),(2006.99,195.2),(2007.46,195.0),(2007.9,193.2),(2008.44,192.8),(2008.98,192.4),(2009.52,190.7),(2010.06,189.0),(2010.61,189.8),(2011.15,190.3),(2011.69,190.0),(2012.23,189.4),(2012.89,189.8),(2013.32,190.9),(2013.86,191.1),(2014.4,190.9),(2014.84,190.7),(2015.31,191.3),(2015.78,190.7),(2016.21,189.8),(2016.75,188.8),(2017.29,188.3),(2017.58,187.9)]

titles = ['(a) Satopanth', '(b) Hidden Valley', '(c) Langtang', '(d) Rolwaling', '(e) Parlung']
ylabels = ['SLA (m a.s.l.)', '$T_a$ ($^o$C)', '$P_m$ (mm)', '$R_s$ (W/m$^2$)']
year_ticks = [2000, 2004, 2008, 2012, 2016, 2020]

# per site: (thin, thick, ylim, labelled ticks, minor step) for SLA, Ta, Pm, Rs
sites = [
    [(sat_sla, sat_sla_avg, (4820, 5420), [5000, 5200], 50),
     (sat_ta, sat_ta_avg, (-5.5, -2.5), [-5, -4, -3], 0.2),
     (sat_pm, sat_pm_avg, (95, 180), [100, 150], 10),
     (sat_rs, sat_rs_avg, (219, 250), [220, 230, 240], 2)],
    [(hid_sla, hid_sla_avg, (5225, 5825), [5400, 5600], 50),
     (hid_ta, hid_ta_avg, (-3.7, -0.7), [-3, -2, -1], 0.2),
     (hid_pm, hid_pm_avg, (75, 160), [100, 150], 10),
     (hid_rs, hid_rs_avg, (219, 250), [220, 230, 240], 2)],
    [(lan_sla, lan_sla_avg, (4612, 5212), [4800, 5000], 50),
     (lan_ta, lan_ta_avg, (-6.1, -3.1), [-6, -5, -4], 0.2),
     (lan_pm, lan_pm_avg, (95, 180), [100, 150], 10),
     (lan_rs, lan_rs_avg, (229, 260), [230, 240, 250], 2)],
    [(rol_sla, rol_sla_avg, (4750, 5350), [4800, 5000, 5200], 50),
     (rol_ta, rol_ta_avg, (2.5, 5.5), [3, 4, 5], 0.2),
     (rol_pm, rol_pm_avg, (146, 234), [150, 200], 10),
     (rol_rs, rol_rs_avg, (189, 220), [190, 200, 210], 2)],
    [(par_sla, par_sla_avg, (3950, 4550), [4000, 4200, 4400], 50),
     (par_ta, par_ta_avg, (-2.1, 0.9), [-2, -1, 0], 0.2),
     (par_pm, par_pm_avg, (131, 215), [150, 200], 10),
     (par_rs, par_rs_avg, (179, 210), [180, 190, 200], 2)],
]

fig = plt.figure(figsize=(20.67, 21.40), dpi=100)

col_left = [0.0679, 0.3984, 0.7237]
col_w = 0.2715
row_top = [0.9792, 0.4660]
panel_h = 0.11267

for i, site in enumerate(sites):
    col = i % 3
    row = i // 3
    for j, (thin, thick, ylim, majors, minor) in enumerate(site):
        bottom = row_top[row] - (j + 1) * panel_h
        ax = fig.add_axes([col_left[col], bottom, col_w, panel_h])
        ax.plot([p[0] for p in thin], [p[1] for p in thin], color='black', lw=1.1)
        ax.plot([p[0] for p in thick], [p[1] for p in thick], color='black', lw=3.6)
        ax.set_xlim(1998.5, 2020.85)
        ax.set_ylim(*ylim)
        ax.xaxis.set_major_locator(FixedLocator(year_ticks))
        ax.yaxis.set_major_locator(FixedLocator(majors))
        ax.yaxis.set_minor_locator(MultipleLocator(minor))
        ax.tick_params(axis='both', which='major', direction='in', length=10, width=1.6,
                       labelsize=18, top=False, right=False)
        ax.tick_params(axis='y', which='minor', direction='in', length=5.5, width=1.3, right=False)
        ax.tick_params(axis='y', which='major', pad=5)
        ax.tick_params(axis='x', which='major', pad=9, labelbottom=(j == 3))
        for s in ax.spines.values():
            s.set_linewidth(1.5)
        if j == 0:
            ax.set_title(titles[i], fontsize=21, pad=9)
        if col == 0:
            ax.set_ylabel(ylabels[j], fontsize=23)
            ax.yaxis.set_label_coords(-0.168, 0.5)

fig.savefig('out.png', dpi=100)
